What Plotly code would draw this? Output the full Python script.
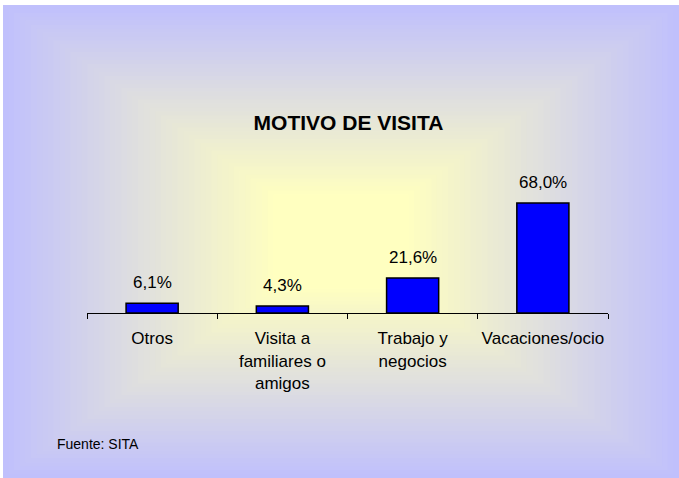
import plotly.graph_objects as go

categories = ["Otros", "Visita a<br>familiares o<br>amigos", "Trabajo y<br>negocios", "Vacaciones/ocio"]
values = [6.1, 4.3, 21.6, 68.0]
value_labels = [f"{v:.1f}".replace(".", ",") + "%" for v in values]

W, H = 679, 478
L, R, T, B = 87, 71, 140, 165
PW, PH = W - L - R, H - T - B
FONT = "Liberation Sans, Arial, sans-serif"

def xp(px):
    return (px - L) / PW

def yp(py):
    return (H - B - py) / PH

fig = go.Figure()
fig.add_trace(go.Bar(
    x=categories, y=values,
    marker=dict(color="#0000FF", line=dict(color="#000000", width=1.5)),
    hoverinfo="skip",
))

# Background rectangular gradient (lavender edges -> pale yellow centre)
edge = (192, 192, 252)
centre = (255, 255, 192)
x0, x1, y0, y1 = 3, 679, 5, 478
cx, cy = (x0 + x1) / 2, (y0 + y1) / 2
N = 60
shapes = []
for k in range(N):
    t = k / N
    f = min(1.0, t / 0.8)
    c = tuple(int(round(edge[i] + (centre[i] - edge[i]) * f)) for i in range(3))
    ax0 = x0 + (cx - x0) * t
    ax1 = x1 - (x1 - cx) * t
    ay0 = y0 + (cy - y0) * t
    ay1 = y1 - (y1 - cy) * t
    if k == 0:
        ax1, ay1 = x1 + 10, y1 + 10
    shapes.append(dict(type="rect", xref="paper", yref="paper",
                       x0=xp(ax0), x1=xp(ax1), y0=yp(ay1), y1=yp(ay0),
                       fillcolor=f"rgb{c}", line=dict(width=0), layer="below"))
# white strips at top and left edges
shapes.append(dict(type="rect", xref="paper", yref="paper", x0=xp(-5), x1=xp(W + 10), y0=yp(y0), y1=yp(-5),
                   fillcolor="white", line=dict(width=0), layer="below"))
shapes.append(dict(type="rect", xref="paper", yref="paper", x0=xp(-5), x1=xp(x0), y0=yp(H + 10), y1=yp(-5),
                   fillcolor="white", line=dict(width=0), layer="below"))

annotations = []
for c, v, lab in zip(categories, values, value_labels):
    annotations.append(dict(x=c, y=v, xref="x", yref="y", text=lab, showarrow=False,
                            yanchor="middle", yshift=21,
                            font=dict(family=FONT, size=17, color="#000000")))
annotations.append(dict(x=xp(55), y=yp(444), xref="paper", yref="paper", text="Fuente: SITA",
                        showarrow=False, xanchor="left", yanchor="middle",
                        font=dict(family=FONT, size=14, color="#000000")))

edge_css = "rgb(%d,%d,%d)" % edge
fig.update_layout(
    width=W, height=H,
    margin=dict(l=L, r=R, t=T, b=B, pad=0),
    paper_bgcolor=edge_css, plot_bgcolor="rgba(0,0,0,0)",
    bargap=0.6,
    showlegend=False,
    title=dict(text="<b>MOTIVO DE VISITA</b>", x=348.5 / W, y=1 - 123 / H,
               xanchor="center", yanchor="middle", xref="container", yref="container",
               font=dict(family=FONT, size=21, color="#000000")),
    xaxis=dict(showline=True, linecolor="#000000", linewidth=1, ticks="outside", ticklen=5,
               tickcolor="#000000", tickson="boundaries", showgrid=False, zeroline=False,
               tickangle=0, ticklabelstandoff=10,
               tickfont=dict(family=FONT, size=17, color="#000000")),
    yaxis=dict(range=[0, PH / 1.617], visible=False, showgrid=False, zeroline=False),
    shapes=shapes,
    annotations=annotations,
)

fig.write_html("out.html", config={"displayModeBar": False},
               post_script=("document.body.style.margin='0';document.body.style.overflow='hidden';"
                            "document.body.style.background='%s';" % edge_css))
